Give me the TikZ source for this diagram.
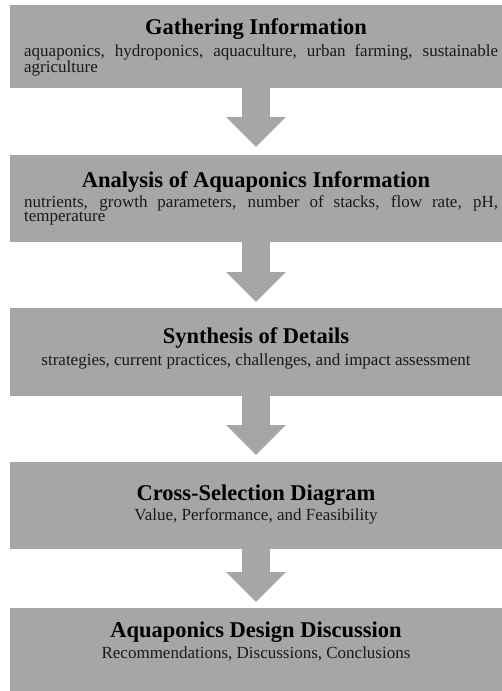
\documentclass[tikz,border=0pt]{standalone}
\usepackage{fontspec}
\setmainfont{Liberation Serif}
\usetikzlibrary{arrows.meta}

\definecolor{boxgray}{HTML}{A6A6A6}
\hyphenpenalty=10000

\tikzset{
    stage/.style={fill=boxgray, minimum width=492pt, inner sep=0pt, anchor=north},
    headline/.style={font=\fontsize{22.5}{24}\selectfont\bfseries, anchor=base, inner sep=0pt},
    detail/.style={font=\fontsize{17}{13}\selectfont, text=black!90, inner sep=0pt},
    longdetail/.style={detail, text width=474pt, align=justify, anchor=base west},
    flow/.style={draw=boxgray, line width=28pt, -{Triangle[width=58pt,length=30pt]}}
}

\begin{document}
\begin{tikzpicture}[x=1pt,y=1pt]
        \useasboundingbox (0,0) rectangle (502,-691);

        \node[stage, minimum height=83pt] (gather) at (256,-5) {};
        \node[headline] (gather-h) at (256,-34) {Gathering Information};
        \node[longdetail] (gather-d) at (24,-56) {aquaponics, hydroponics, aquaculture, urban farming, sustainable agriculture};

        \node[stage, minimum height=87pt] (analysis) at (256,-155) {};
        \node[headline] (analysis-h) at (256,-187) {Analysis of Aquaponics Information};
        \node[longdetail] (analysis-d) at (24,-207) {nutrients, growth parameters, number of stacks, flow rate, pH, temperature};

        \node[stage, minimum height=88pt] (synthesis) at (256,-308) {};
        \node[headline] (synthesis-h) at (256,-343) {Synthesis of Details};
        \node[detail, anchor=base] (synthesis-d) at (256,-365) {strategies, current practices, challenges, and impact assessment};

        \node[stage, minimum height=87pt] (crosssel) at (256,-462) {};
        \node[headline] (crosssel-h) at (256,-500) {Cross-Selection Diagram};
        \node[detail, anchor=base] (crosssel-d) at (256,-520) {Value, Performance, and Feasibility};

        \node[stage, minimum height=83pt] (design) at (256,-608) {};
        \node[headline] (design-h) at (256,-637) {Aquaponics Design Discussion};
        \node[detail, anchor=base] (design-d) at (256,-658) {Recommendations, Discussions, Conclusions};

        % block arrows between the stages
        \draw[flow] (gather.south) -- ([yshift=8pt]analysis.north);
        \draw[flow] (analysis.south) -- ([yshift=6pt]synthesis.north);
        \draw[flow] (synthesis.south) -- ([yshift=7pt]crosssel.north);
        \draw[flow] (crosssel.south) -- ([yshift=6pt]design.north);

\end{tikzpicture}
\end{document}
